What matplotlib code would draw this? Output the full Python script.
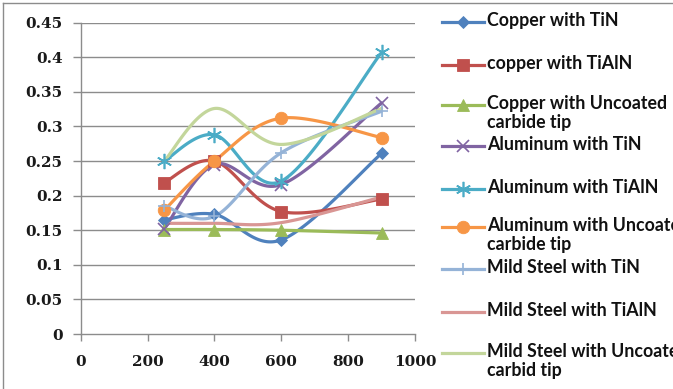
import numpy as np
import matplotlib
matplotlib.use("Agg")
import matplotlib.pyplot as plt
from matplotlib.lines import Line2D

# Cutting speed (x) and measured values for each tool / workpiece pair
speeds = [250, 400, 600, 900]

series_names = [
    "Copper with TiN",
    "copper with TiAlN",
    "Copper with Uncoated\ncarbide tip",
    "Aluminum with TiN",
    "Aluminum with TiAlN",
    "Aluminum with Uncoated\ncarbide tip",
    "Mild Steel with TiN",
    "Mild Steel with TiAlN",
    "Mild Steel with Uncoated\ncarbid tip",
]

copper_tin = [0.165, 0.173, 0.136, 0.261]
copper_tialn = [0.219, 0.250, 0.177, 0.195]
copper_uncoated = [0.151, 0.151, 0.150, 0.146]
aluminum_tin = [0.152, 0.245, 0.216, 0.334]
aluminum_tialn = [0.250, 0.288, 0.221, 0.407]
aluminum_uncoated = [0.179, 0.250, 0.312, 0.284]
mild_steel_tin = [0.185, 0.170, 0.262, 0.322]
mild_steel_tialn = [0.160, 0.160, 0.161, 0.198]
mild_steel_uncoated = [0.250, 0.326, 0.274, 0.326]

series_values = [copper_tin, copper_tialn, copper_uncoated,
                 aluminum_tin, aluminum_tialn, aluminum_uncoated,
                 mild_steel_tin, mild_steel_tialn, mild_steel_uncoated]

colors = ["#4F81BD", "#C0504D", "#9BBB59", "#8064A2", "#4BACC6",
          "#F79646", "#95B3D7", "#D99694", "#C3D69B"]
markers = ["D", "s", "^", "x", (6, 2, 0), "o", "+", None, None]
msizes = [6.5, 9, 9, 9, 11, 9, 8, 0, 0]

y_ticks = [0, 0.05, 0.1, 0.15, 0.2, 0.25, 0.3, 0.35, 0.4, 0.45]
y_tick_labels = ["0", "0.05", "0.1", "0.15", "0.2", "0.25", "0.3", "0.35", "0.4", "0.45"]
x_ticks = [0, 200, 400, 600, 800, 1000]

W, H = 673, 389
fig = plt.figure(figsize=(W / 100, H / 100), dpi=100)
ax_l, ax_r, ax_t, ax_b = 80.7, 415, 22.7, 334
ax = fig.add_axes([ax_l / W, 1 - ax_b / H, (ax_r - ax_l) / W, (ax_b - ax_t) / H])
ax.set_xlim(0, 1000)
ax.set_ylim(0, 0.45)

sx = (ax_r - ax_l) / 1000.0
sy = (ax_b - ax_t) / 0.45


def smooth(xs, ys, n=40):
    """Bezier smoothing through the points, done in screen proportions."""
    P = np.column_stack([np.asarray(xs, float) * sx, np.asarray(ys, float) * sy])
    out = [P[0]]
    for i in range(len(P) - 1):
        p0 = P[i - 1] if i > 0 else P[i]
        p1, p2 = P[i], P[i + 1]
        p3 = P[i + 2] if i + 2 < len(P) else P[i + 1]
        c1 = p1 + (p2 - p0) / 6.0
        c2 = p2 - (p3 - p1) / 6.0
        t = np.linspace(0, 1, n)[1:, None]
        seg = ((1 - t) ** 3) * p1 + 3 * ((1 - t) ** 2) * t * c1 + 3 * (1 - t) * t ** 2 * c2 + t ** 3 * p2
        out.extend(seg)
    out = np.array(out)
    return out[:, 0] / sx, out[:, 1] / sy


grid_c = "#8C8C8C"
for yv in y_ticks[1:]:
    ax.axhline(yv, color=grid_c, lw=1.0, zorder=0)

for vals, c, m, ms in zip(series_values, colors, markers, msizes):
    xs, ys = smooth(speeds, vals)
    ax.plot(xs, ys, color=c, lw=2.3, solid_capstyle="round", zorder=2)
    if m is not None:
        mew = 1.2 if m in ("x", "+") or isinstance(m, tuple) else 0.6
        ax.plot(speeds, vals, linestyle="none", marker=m, markersize=ms,
                color=c, markeredgecolor=c, markeredgewidth=mew, zorder=3)

for s in ["top", "right"]:
    ax.spines[s].set_visible(False)
for s in ["left", "bottom"]:
    ax.spines[s].set_color(grid_c)
    ax.spines[s].set_linewidth(1.0)

tick_font = dict(family="DejaVu Serif", weight="bold", size=11)
ax.set_yticks(y_ticks)
ax.set_yticklabels(y_tick_labels, fontdict=tick_font, color="#1a1a1a")
ax.set_xticks(x_ticks)
ax.set_xticklabels([str(v) for v in x_ticks], fontdict=tick_font, color="#1a1a1a")
ax.tick_params(axis="y", direction="out", length=6, width=1, color=grid_c, pad=7)
ax.tick_params(axis="x", direction="out", length=5, width=1, color=grid_c, pad=10)

# Outer chart frame (top and left edges)
fig.add_artist(Line2D([3 / W, 1], [1 - 3 / H, 1 - 3 / H], color="#8C8C8C", lw=1.0))
fig.add_artist(Line2D([3 / W, 3 / W], [1 - 3 / H, 0], color="#8C8C8C", lw=1.0))

# Legend entries, handle aligned with the first text line
legend_y = [22, 65, 105, 146, 189, 227, 269, 312, 353]
h_x0, h_x1, txt_x = 442, 484, 487
fs = 12.8
half = fs * 100 / 72 / 2
for name, c, m, ms, yy in zip(series_names, colors, markers, msizes, legend_y):
    fy = 1 - yy / H
    fig.add_artist(Line2D([h_x0 / W, h_x1 / W], [fy, fy], color=c, lw=2.3))
    if m is not None:
        mew = 1.2 if m in ("x", "+") or isinstance(m, tuple) else 0.6
        fig.add_artist(Line2D([(h_x0 + h_x1) / 2 / W], [fy], marker=m, markersize=ms,
                              color=c, markeredgecolor=c, markeredgewidth=mew, linestyle="none"))
    fig.text(txt_x / W, fy + (half + 1) / H, name, fontsize=fs, fontfamily="Lato",
             fontweight="bold", color="#111111", va="top", ha="left", linespacing=1.1)

fig.savefig("out.png", dpi=100)
